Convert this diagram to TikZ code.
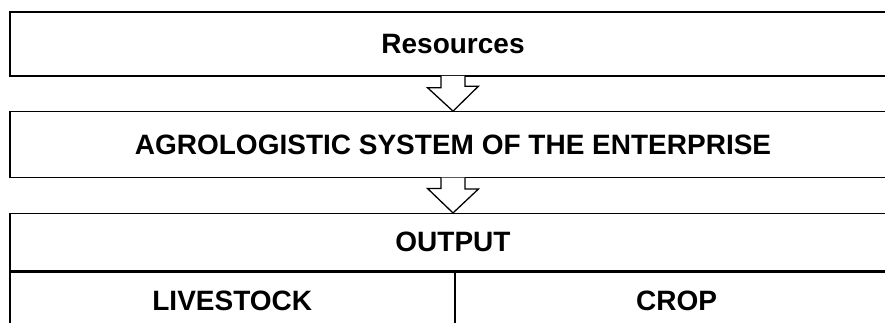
\documentclass[tikz,border=0pt]{standalone}
\usepackage{fontspec}
\setmainfont{Liberation Sans}
\usetikzlibrary{positioning}

\begin{document}
\begin{tikzpicture}[
    x=1pt, y=1pt,
    node distance=34.5pt,
    box/.style={
        rectangle, draw=black, line width=1.3pt,
        minimum width=886pt, inner sep=0pt,
        font=\fontsize{28}{33}\selectfont\bfseries
    },
    hollow/.style={
        draw=black, line width=1.3pt, fill=white, line join=miter
    },
]

% -- page frame --
\useasboundingbox (0,0) rectangle (885,322);
\clip (0,0) rectangle (885,322);

% -- stages --
\node[box, minimum height=64pt] (res) at (453,278) {Resources};
\node[box, minimum height=66pt, below=of res] (sys) {AGROLOGISTIC SYSTEM OF THE ENTERPRISE};
\node[box, minimum height=57pt, below=of sys] (out) {OUTPUT};

% -- output split --
\node[box, minimum width=444.5pt, minimum height=58pt, anchor=north west] (live) at (out.south west) {LIVESTOCK};
\node[box, minimum width=441.5pt, minimum height=58pt, anchor=north west] (crop) at (live.north east) {CROP};

% -- block arrows (open into the box above) --
\draw[hollow] ([xshift=-12pt,yshift=0.8pt]res.south) -- ++(0,-11.8) -- ++(-13.5,0) -- (sys.north)
    -- ++(25.5,25) -- ++(-13.5,0) -- ([xshift=12pt,yshift=0.8pt]res.south);
\draw[hollow] ([xshift=-12pt,yshift=0.8pt]sys.south) -- ++(0,-10.8) -- ++(-13.5,0) -- (out.north)
    -- ++(25.5,24) -- ++(-13.5,0) -- ([xshift=12pt,yshift=0.8pt]sys.south);

\end{tikzpicture}
\end{document}
